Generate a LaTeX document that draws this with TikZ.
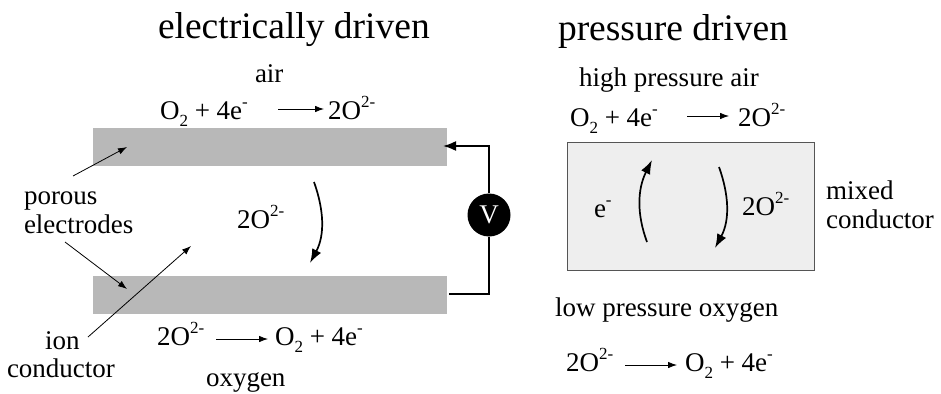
\documentclass[tikz,border=0pt]{standalone}
\usepackage{fontspec}
\setmainfont{Liberation Serif}
\usetikzlibrary{arrows.meta}
\newcommand\lowsub[1]{\raisebox{-0.28em}{\fontsize{17}{17}\selectfont #1}}
\newcommand\highsup[1]{\raisebox{0.42em}{\fontsize{17}{17}\selectfont #1}}
\newcommand\otwo{O\lowsub{2} + 4e\highsup{-}}
\newcommand\twoo{2O\highsup{2-}}
\definecolor{elec}{HTML}{B8B8B8}
\definecolor{mixfill}{HTML}{EEEEEE}
\definecolor{mixline}{HTML}{555555}
\tikzset{
  x=1pt,y=-1pt,
  lab/.style={anchor=base west,inner sep=0pt,outer sep=0pt,font=\fontsize{27}{27}\selectfont},
  ttl/.style={anchor=base west,inner sep=0pt,outer sep=0pt,font=\fontsize{37.5}{37.5}\selectfont},
  electrode/.style={fill=elec,draw=none,inner sep=0pt,minimum width=354pt,minimum height=38pt},
  thinarrow/.style={line width=0.8pt,-{Latex[length=9pt,width=6.5pt]}},
  flowarrow/.style={line width=1.7pt,-{Latex[length=14pt,width=10pt]}},
  wire/.style={line width=1.7pt},
}
\begin{document}
\begin{tikzpicture}
\useasboundingbox (0,0) rectangle (941,393);
% electrodes
\node[electrode] (top) at (270,147) {};
\node[electrode] (bot) at (270,295) {};
% texts
\node[ttl] (t1) at (158,39) {electrically driven};
\node[ttl] (t2) at (558,41) {pressure driven};
\node[lab] (air) at (255,83) {air};
\node[lab] (r1a) at (160,119) {\otwo};
\node[lab] (r1b) at (328,119) {\twoo};
\node[lab] (porous) at (24,204) {porous};
\node[lab] (electrodes) at (24,233) {electrodes};
\node[lab] (o2mid) at (237,228) {\twoo};
\node[lab] (ion) at (45,349) {ion};
\node[lab] (cond) at (7,377) {conductor};
\node[lab] (r2a) at (157,345) {\twoo};
\node[lab] (r2b) at (275,345) {\otwo};
\node[lab] (oxy) at (206,386) {oxygen};
% left arrows
\coordinate (p1) at (73,176);  \coordinate (p1e) at (127,147);
\coordinate (p2) at (65,242);  \coordinate (p2e) at (127,289);
\coordinate (i1) at (88,337);  \coordinate (i1e) at (191,246);
\draw[thinarrow] (p1) -- (p1e);
\draw[thinarrow] (p2) -- (p2e);
\draw[thinarrow] (i1) -- (i1e);
\coordinate (ra1) at (278,109); \coordinate (ra1e) at (324,109);
\coordinate (ra2) at (216,339); \coordinate (ra2e) at (268,339);
\draw[thinarrow] (ra1) -- (ra1e);
\draw[thinarrow] (ra2) -- (ra2e);
% curved ion arrow
\coordinate (c1) at (314,182); \coordinate (c1e) at (310,263);
\draw[flowarrow] (c1) .. controls (324,210) and (325,235) .. (c1e);
% voltage loop
\node[circle,fill=black,inner sep=0pt,minimum size=43pt,text=white,font=\fontsize{27}{27}\selectfont] (v) at (489,215) {V};
\coordinate (w1) at (449,294);
\coordinate (w2) at (443,146);
\draw[wire] (w1) -- (489,294) -- (v.south);
\draw[wire,-{Latex[length=13pt,width=10pt]}] (v.north) -- (489,146) -- (w2);
% right panel
\node[draw=mixline,fill=mixfill,line width=1pt,inner sep=0pt,minimum width=247pt,minimum height=128pt] (mix) at (690.5,206) {};
\node[lab] (hp) at (579,87) {high pressure air};
\node[lab] (r3a) at (570,126) {\otwo};
\node[lab] (r3b) at (738,126) {\twoo};
\node[lab] (em) at (594,217) {e\highsup{-}};
\node[lab] (o2r) at (742,215) {\twoo};
\node[lab] (mixed) at (826,199) {mixed};
\node[lab] (mc) at (826,228) {conductor};
\node[lab] (lp) at (555,316) {low pressure oxygen};
\node[lab] (r4a) at (566,371) {\twoo};
\node[lab] (r4b) at (685,371) {\otwo};
\coordinate (ra3) at (687,116); \coordinate (ra3e) at (729,116);
\coordinate (ra4) at (625,365); \coordinate (ra4e) at (677,365);
\draw[thinarrow] (ra3) -- (ra3e);
\draw[thinarrow] (ra4) -- (ra4e);
\coordinate (u1) at (647,242); \coordinate (u1e) at (652,160);
\draw[flowarrow] (u1) .. controls (637,215) and (637,190) .. (u1e);
\coordinate (d1) at (719,167); \coordinate (d1e) at (715,248);
\draw[flowarrow] (d1) .. controls (729,195) and (730,220) .. (d1e);
\end{tikzpicture}
\end{document}
